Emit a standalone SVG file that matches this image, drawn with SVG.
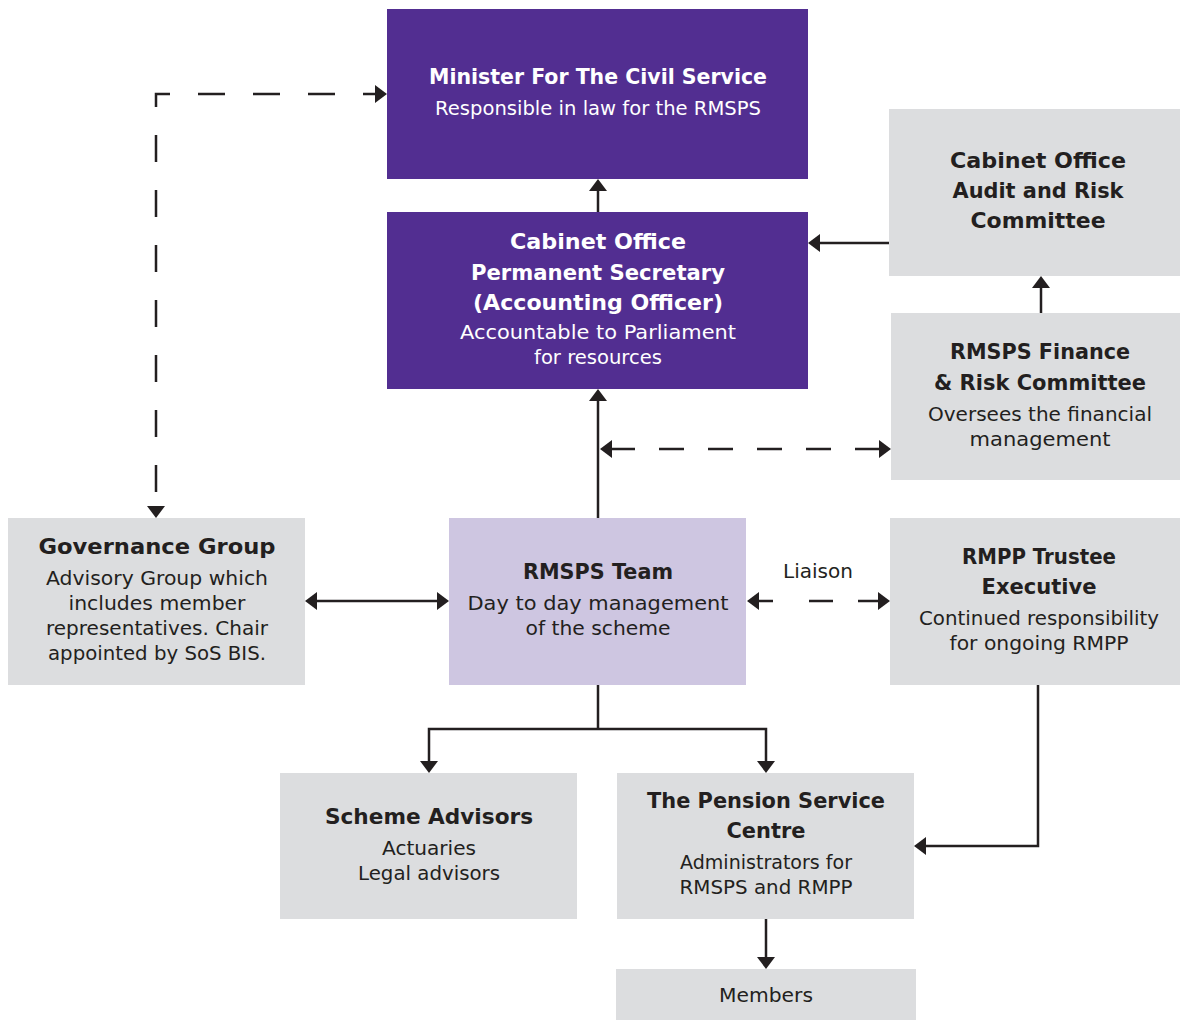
<svg xmlns="http://www.w3.org/2000/svg" width="1180" height="1020" viewBox="0 0 1180 1020">
<style>
.purple{fill:#522E91}
.lilac{fill:#CEC6E1}
.grey{fill:#DCDDDF}
text{font-family:"DejaVu Sans","Liberation Sans",sans-serif;text-anchor:middle}
.t{font-weight:bold;font-size:21px}
.s{font-size:19px}
.w{fill:#FFFFFF}
.d{fill:#231F20}
.ln{fill:none;stroke:#231F20;stroke-width:2.5}
</style>
<defs>
<marker id="ah" markerUnits="userSpaceOnUse" markerWidth="12" markerHeight="18" refX="6" refY="9" orient="auto-start-reverse">
<path d="M0,0 L12,9 L0,18 Z" fill="#231F20"/>
</marker>
</defs>
<rect width="1180" height="1020" fill="#FFFFFF"/>
<g id="connectors">
<path class="ln" d="M156 512 L156 94 L381 94" stroke-dasharray="27 28" stroke-dashoffset="35" marker-start="url(#ah)" marker-end="url(#ah)"/>
<path class="ln" d="M598 212 L598 185" marker-end="url(#ah)"/>
<path class="ln" d="M889 243 L814 243" marker-end="url(#ah)"/>
<path class="ln" d="M1041 313 L1041 282" marker-end="url(#ah)"/>
<path class="ln" d="M598 518 L598 395" marker-end="url(#ah)"/>
<path class="ln" d="M606 449 L885 449" stroke-dasharray="25 24" stroke-dashoffset="45" marker-start="url(#ah)" marker-end="url(#ah)"/>
<path class="ln" d="M311 601 L443 601" marker-start="url(#ah)" marker-end="url(#ah)"/>
<path class="ln" d="M753 601 L884 601" stroke-dasharray="20 36 24 25 26 100" marker-start="url(#ah)" marker-end="url(#ah)"/>
<path class="ln" d="M598 685 L598 729"/>
<path class="ln" d="M429 767 L429 729 L766 729 L766 767" marker-start="url(#ah)" marker-end="url(#ah)"/>
<path class="ln" d="M1038 685 L1038 846 L920 846" marker-end="url(#ah)"/>
<path class="ln" d="M766 919 L766 963" marker-end="url(#ah)"/>
<text class="s d" x="818" y="578" textLength="70" lengthAdjust="spacingAndGlyphs">Liaison</text>
</g>
<g id="minister">
<rect class="purple" x="387" y="9" width="421" height="170"/>
<text class="t w" x="598" y="84" textLength="338" lengthAdjust="spacingAndGlyphs">Minister For The Civil Service</text>
<text class="s w" x="598" y="115" textLength="326" lengthAdjust="spacingAndGlyphs">Responsible in law for the RMSPS</text>
</g>
<g id="perm-sec">
<rect class="purple" x="387" y="212" width="421" height="177"/>
<text class="t w" x="598" y="249" textLength="176" lengthAdjust="spacingAndGlyphs">Cabinet Office</text>
<text class="t w" x="598" y="280" textLength="254" lengthAdjust="spacingAndGlyphs">Permanent Secretary</text>
<text class="t w" x="598" y="310" textLength="250" lengthAdjust="spacingAndGlyphs">(Accounting Officer)</text>
<text class="s w" x="598" y="339" textLength="276" lengthAdjust="spacingAndGlyphs">Accountable to Parliament</text>
<text class="s w" x="598" y="364" textLength="128" lengthAdjust="spacingAndGlyphs">for resources</text>
</g>
<g id="audit">
<rect class="grey" x="889" y="109" width="291" height="167"/>
<text class="t d" x="1038" y="168" textLength="176" lengthAdjust="spacingAndGlyphs">Cabinet Office</text>
<text class="t d" x="1038" y="198" textLength="171" lengthAdjust="spacingAndGlyphs">Audit and Risk</text>
<text class="t d" x="1038" y="228" textLength="135" lengthAdjust="spacingAndGlyphs">Committee</text>
</g>
<g id="finance">
<rect class="grey" x="891" y="313" width="289" height="167"/>
<text class="t d" x="1040" y="359" textLength="180" lengthAdjust="spacingAndGlyphs">RMSPS Finance</text>
<text class="t d" x="1040" y="390" textLength="212" lengthAdjust="spacingAndGlyphs">&amp; Risk Committee</text>
<text class="s d" x="1040" y="421" textLength="224" lengthAdjust="spacingAndGlyphs">Oversees the financial</text>
<text class="s d" x="1040" y="446" textLength="141" lengthAdjust="spacingAndGlyphs">management</text>
</g>
<g id="governance">
<rect class="grey" x="8" y="518" width="297" height="167"/>
<text class="t d" x="157" y="554" textLength="237" lengthAdjust="spacingAndGlyphs">Governance Group</text>
<text class="s d" x="157" y="585" textLength="222" lengthAdjust="spacingAndGlyphs">Advisory Group which</text>
<text class="s d" x="157" y="610" textLength="177" lengthAdjust="spacingAndGlyphs">includes member</text>
<text class="s d" x="157" y="635" textLength="222" lengthAdjust="spacingAndGlyphs">representatives. Chair</text>
<text class="s d" x="157" y="660" textLength="218" lengthAdjust="spacingAndGlyphs">appointed by SoS BIS.</text>
</g>
<g id="rmsps-team">
<rect class="lilac" x="449" y="518" width="297" height="167"/>
<text class="t d" x="598" y="579" textLength="150" lengthAdjust="spacingAndGlyphs">RMSPS Team</text>
<text class="s d" x="598" y="610" textLength="261" lengthAdjust="spacingAndGlyphs">Day to day management</text>
<text class="s d" x="598" y="635" textLength="145" lengthAdjust="spacingAndGlyphs">of the scheme</text>
</g>
<g id="rmpp-trustee">
<rect class="grey" x="890" y="518" width="290" height="167"/>
<text class="t d" x="1039" y="564" textLength="154" lengthAdjust="spacingAndGlyphs">RMPP Trustee</text>
<text class="t d" x="1039" y="594" textLength="115" lengthAdjust="spacingAndGlyphs">Executive</text>
<text class="s d" x="1039" y="625" textLength="240" lengthAdjust="spacingAndGlyphs">Continued responsibility</text>
<text class="s d" x="1039" y="650" textLength="179" lengthAdjust="spacingAndGlyphs">for ongoing RMPP</text>
</g>
<g id="scheme-advisors">
<rect class="grey" x="280" y="773" width="297" height="146"/>
<text class="t d" x="429" y="824" textLength="208" lengthAdjust="spacingAndGlyphs">Scheme Advisors</text>
<text class="s d" x="429" y="855" textLength="94" lengthAdjust="spacingAndGlyphs">Actuaries</text>
<text class="s d" x="429" y="880" textLength="142" lengthAdjust="spacingAndGlyphs">Legal advisors</text>
</g>
<g id="pension-service">
<rect class="grey" x="617" y="773" width="297" height="146"/>
<text class="t d" x="766" y="808" textLength="238" lengthAdjust="spacingAndGlyphs">The Pension Service</text>
<text class="t d" x="766" y="838" textLength="79" lengthAdjust="spacingAndGlyphs">Centre</text>
<text class="s d" x="766" y="869" textLength="172" lengthAdjust="spacingAndGlyphs">Administrators for</text>
<text class="s d" x="766" y="894" textLength="173" lengthAdjust="spacingAndGlyphs">RMSPS and RMPP</text>
</g>
<g id="members">
<rect class="grey" x="616" y="969" width="300" height="51"/>
<text class="s d" x="766" y="1002" textLength="94" lengthAdjust="spacingAndGlyphs">Members</text>
</g>
</svg>
